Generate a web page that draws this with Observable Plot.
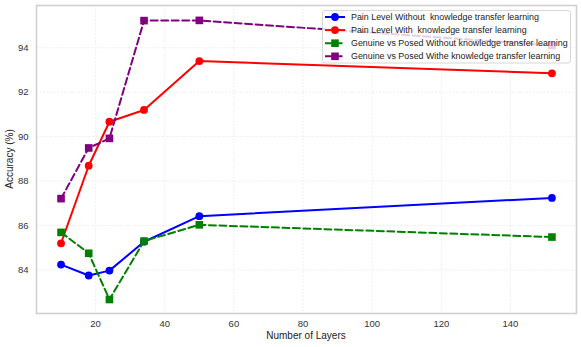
<!DOCTYPE html>
<html>
<head>
<meta charset="utf-8">
<script src="https://cdn.jsdelivr.net/npm/d3@7"></script>
<script src="https://cdn.jsdelivr.net/npm/@observablehq/plot@0.6"></script>
<style>
  html, body { margin: 0; padding: 0; background: #fff; }
  #chart { width: 581px; height: 347px; }
  svg { font-family: "Liberation Sans", Arial, sans-serif; }
</style>
</head>
<body>
<div id="chart"></div>
<script>
const layers = [10, 18, 24, 34, 50, 152];
const painWithout = [84.24, 83.75, 83.97, 85.27, 86.42, 87.24];
const painWith = [85.2, 88.69, 90.67, 91.2, 93.4, 92.85];
const gvpWithout = [85.69, 84.75, 82.67, 85.3, 86.03, 85.48];
const gvpWith = [87.21, 89.49, 89.92, 95.22, 95.23, 94.1];

const seriesNames = [
  "Pain Level Without  knowledge transfer learning",
  "Pain Level With  knowledge transfer learning",
  "Genuine vs Posed Without knowledge transfer learning",
  "Genuine vs Posed Withe knowledge transfer learning"
];
const seriesValues = [painWithout, painWith, gvpWithout, gvpWith];
const seriesColors = ["blue", "red", "green", "purple"];
const seriesDashed = [false, false, true, true];
const seriesSymbols = ["circle", "circle", "square", "square"];

const xTicks = [20, 40, 60, 80, 100, 120, 140];
const yTicks = [84, 86, 88, 90, 92, 94];

const marks = [
  Plot.gridX(xTicks, {stroke: "#ebebeb", strokeOpacity: 1, strokeDasharray: "2,1.5", strokeWidth: 0.8}),
  Plot.gridY(yTicks, {stroke: "#ebebeb", strokeOpacity: 1, strokeDasharray: "2,1.5", strokeWidth: 0.8}),
  Plot.frame({stroke: "#d0d0d0", strokeWidth: 1.6}),
  Plot.axisX(xTicks, {tickSize: 0, tickPadding: 7, fontSize: 9.5, fill: "#333", label: null}),
  Plot.axisY(yTicks, {tickSize: 0, tickPadding: 8, fontSize: 9.5, fill: "#333", label: null})
];

seriesNames.forEach((name, i) => {
  const rows = layers.map((l, j) => ({x: l, y: seriesValues[i][j]}));
  marks.push(Plot.line(rows, {
    x: "x", y: "y", stroke: seriesColors[i], strokeWidth: 2,
    strokeDasharray: seriesDashed[i] ? "7,3.5" : null
  }));
  marks.push(Plot.dot(rows, {
    x: "x", y: "y", fill: seriesColors[i], stroke: "none",
    symbol: seriesSymbols[i], r: seriesSymbols[i] === "square" ? 4.3 : 3.9
  }));
});

const plot = Plot.plot({
  width: 581,
  height: 347,
  marginLeft: 36,
  marginRight: 5,
  marginTop: 5,
  marginBottom: 34,
  style: {fontFamily: "Liberation Sans, Arial, sans-serif", background: "#fff"},
  x: {domain: [2.9, 159.1]},
  y: {domain: [82.04, 95.9]},
  marks
});

const svg = d3.select(plot);
// axis labels
svg.append("text")
  .attr("x", 306).attr("y", 339)
  .attr("text-anchor", "middle")
  .attr("font-size", 10).attr("fill", "#222")
  .text("Number of Layers");
svg.append("text")
  .attr("transform", "translate(13,159) rotate(-90)")
  .attr("text-anchor", "middle")
  .attr("font-size", 10).attr("fill", "#222")
  .text("Accuracy (%)");

// legend
const lg = svg.append("g").attr("text-anchor", "start");
lg.append("rect")
  .attr("x", 322.5).attr("y", 10.5).attr("width", 248).attr("height", 52.5)
  .attr("rx", 2.5)
  .attr("fill", "white").attr("fill-opacity", 0.8)
  .attr("stroke", "#cccccc").attr("stroke-width", 0.8);
seriesNames.forEach((name, i) => {
  const cy = 17 + i * 13.1;
  lg.append("line")
    .attr("x1", 325).attr("x2", 345).attr("y1", cy).attr("y2", cy)
    .attr("stroke", seriesColors[i]).attr("stroke-width", 2)
    .attr("stroke-dasharray", seriesDashed[i] ? "7,3.5" : null);
  if (seriesSymbols[i] === "circle") {
    lg.append("circle").attr("cx", 335).attr("cy", cy).attr("r", 3.9).attr("fill", seriesColors[i]);
  } else {
    lg.append("rect").attr("x", 331.2).attr("y", cy - 3.8).attr("width", 7.6).attr("height", 7.6).attr("fill", seriesColors[i]);
  }
  lg.append("text")
    .attr("x", 351).attr("y", cy).attr("dy", "0.35em")
    .attr("text-anchor", "start")
    .attr("font-size", 8.9).attr("fill", "#222")
    .style("white-space", "pre")
    .text(name);
});

document.getElementById("chart").appendChild(plot);
</script>
</body>
</html>
